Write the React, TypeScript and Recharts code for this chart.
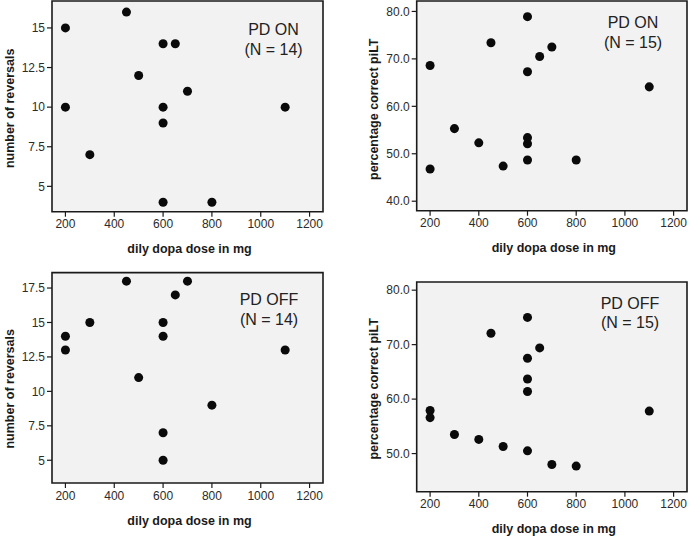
import React from 'react';
import {
  ScatterChart,
  Scatter,
  XAxis,
  YAxis,
  ZAxis,
  CartesianGrid,
  ReferenceArea,
} from 'recharts';

// shared x axis
const doseTicks = [200, 400, 600, 800, 1000, 1200];
const doseDomain: [number, number] = [145, 1255];

// PD ON - number of reversals
const onRevDose = [200, 200, 300, 450, 500, 600, 650, 600, 600, 700, 600, 800, 1100];
const onRevCount = [15, 10, 7, 16, 12, 14, 14, 10, 9, 11, 4, 4, 10];
const revTicksOn = [5, 7.5, 10, 12.5, 15];

// PD ON - percentage correct piLT
const onPiltDose = [600, 450, 700, 650, 200, 600, 1100, 300, 600, 400, 600, 600, 800, 500, 200];
const onPiltPct = [78.9, 73.4, 72.5, 70.5, 68.6, 67.3, 64.1, 55.3, 53.4, 52.3, 52.1, 48.7, 48.7, 47.4, 46.8];
const piltTicksOn = [40, 50, 60, 70, 80];

// PD OFF - number of reversals
const offRevDose = [450, 700, 650, 300, 600, 200, 600, 200, 1100, 500, 800, 600, 600];
const offRevCount = [18, 18, 17, 15, 15, 14, 14, 13, 13, 11, 9, 7, 5];
const revTicksOff = [5, 7.5, 10, 12.5, 15, 17.5];

// PD OFF - percentage correct piLT
const offPiltDose = [600, 450, 650, 600, 600, 600, 200, 1100, 200, 300, 400, 500, 600, 700, 800];
const offPiltPct = [75.0, 72.1, 69.4, 67.5, 63.7, 61.4, 57.9, 57.8, 56.6, 53.5, 52.6, 51.3, 50.5, 48.0, 47.7];
const piltTicksOff = [50, 60, 70, 80];

const FONT = '"Liberation Sans", Arial, Helvetica, sans-serif';
const INK = '#1a1a1a';

interface PanelProps {
  left: number;
  top: number;
  marginTop: number;
  marginRight: number;
  yAxisWidth: number;
  xAxisHeight: number;
  dose: number[];
  values: number[];
  yDomain: [number, number];
  yTicks: number[];
  yFormat?: (v: number) => string;
  yTitle: string;
  yTitleOffset: number;
  yTitleDy: number;
  xTitleOffset: number;
  group: string;
  n: number;
  noteX: number;
  noteY: number;
}

function Panel(p: PanelProps) {
  const data = p.dose.map((d, i) => ({ dose: d, value: p.values[i] }));
  return (
    <div style={{ position: 'absolute', left: p.left, top: p.top, width: 345, height: 268 }}>
      <ScatterChart
        width={345}
        height={268}
        margin={{ top: p.marginTop, right: p.marginRight, bottom: 0, left: 0 }}
      >
        <CartesianGrid horizontal={false} vertical={false} fill="#f2f2f2" />
        <XAxis
          type="number"
          dataKey="dose"
          domain={doseDomain}
          ticks={doseTicks}
          interval={0}
          allowDataOverflow
          height={p.xAxisHeight}
          axisLine={false}
          tickLine={{ stroke: INK, strokeWidth: 1.2 }}
          tickSize={5}
          tickMargin={3}
          tick={{ fontSize: 12, fill: '#2b2b2b' }}
          label={{
            value: 'dily dopa dose in mg',
            position: 'insideBottom',
            offset: p.xTitleOffset,
            dx: 2,
            style: { fontSize: 12.5, fontWeight: 'bold', fill: INK },
          }}
        />
        <YAxis
          type="number"
          dataKey="value"
          domain={p.yDomain}
          ticks={p.yTicks}
          interval={0}
          allowDataOverflow
          width={p.yAxisWidth}
          axisLine={false}
          tickLine={{ stroke: INK, strokeWidth: 1.2 }}
          tickSize={5}
          tickMargin={2}
          tickFormatter={p.yFormat}
          tick={{ fontSize: 12, fill: '#2b2b2b' }}
          label={{
            value: p.yTitle,
            angle: -90,
            position: 'insideLeft',
            offset: p.yTitleOffset,
            dy: p.yTitleDy,
            style: { fontSize: 12.5, fontWeight: 'bold', fill: INK, textAnchor: 'middle' },
          }}
        />
        <ZAxis range={[52, 52]} />
        <ReferenceArea
          x1={doseDomain[0]}
          x2={doseDomain[1]}
          y1={p.yDomain[0]}
          y2={p.yDomain[1]}
          fill="none"
          fillOpacity={0}
          stroke={INK}
          strokeWidth={1.6}
          ifOverflow="visible"
        />
        <Scatter data={data} fill="#0a0a0a" isAnimationActive={false} />
      </ScatterChart>
      <div
        style={{
          position: 'absolute',
          left: p.noteX - 60,
          top: p.noteY,
          width: 120,
          textAlign: 'center',
          fontSize: 16,
          lineHeight: '19.5px',
          color: '#222',
        }}
      >
        <div>{p.group}</div>
        <div>(N = {p.n})</div>
      </div>
    </div>
  );
}

const oneDecimal = (v: number) => v.toFixed(1);

export default function App() {
  return (
    <div
      style={{
        position: 'absolute',
        left: 0,
        top: 0,
        width: 689,
        height: 536,
        background: '#fff',
        fontFamily: FONT,
      }}
    >
      <Panel
        left={0}
        top={0}
        marginTop={1}
        marginRight={22}
        yAxisWidth={52}
        xAxisHeight={56.3}
        dose={onRevDose}
        values={onRevCount}
        yDomain={[3.4, 16.7]}
        yTicks={revTicksOn}
        yTitle="number of reversals"
        yTitleOffset={10}
        yTitleDy={2}
        xTitleOffset={15.5}
        group="PD ON"
        n={14}
        noteX={273.5}
        noteY={20.2}
      />
      <Panel
        left={344}
        top={0}
        marginTop={1}
        marginRight={2}
        yAxisWidth={72.7}
        xAxisHeight={57.3}
        dose={onPiltDose}
        values={onPiltPct}
        yDomain={[38.0, 82.2]}
        yTicks={piltTicksOn}
        yFormat={oneDecimal}
        yTitle="percentage correct piLT"
        yTitleOffset={29.5}
        yTitleDy={3.4}
        xTitleOffset={16}
        group="PD ON"
        n={15}
        noteX={289}
        noteY={13}
      />
      <Panel
        left={0}
        top={268}
        marginTop={4.6}
        marginRight={22}
        yAxisWidth={52}
        xAxisHeight={53}
        dose={offRevDose}
        values={offRevCount}
        yDomain={[3.35, 18.62]}
        yTicks={revTicksOff}
        yTitle="number of reversals"
        yTitleOffset={10}
        yTitleDy={11}
        xTitleOffset={11.5}
        group="PD OFF"
        n={14}
        noteX={269}
        noteY={22}
      />
      <Panel
        left={344}
        top={268}
        marginTop={14}
        marginRight={2}
        yAxisWidth={72.7}
        xAxisHeight={44.3}
        dose={offPiltDose}
        values={offPiltPct}
        yDomain={[43.0, 81.5]}
        yTicks={piltTicksOff}
        yFormat={oneDecimal}
        yTitle="percentage correct piLT"
        yTitleOffset={29.5}
        yTitleDy={2}
        xTitleOffset={3.5}
        group="PD OFF"
        n={15}
        noteX={286}
        noteY={25.7}
      />
    </div>
  );
}
